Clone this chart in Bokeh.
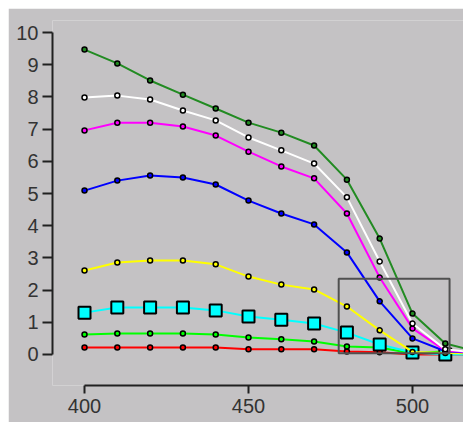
from bokeh.plotting import figure
from bokeh.models import Range1d, FixedTicker, ColumnDataSource
from bokeh.embed import file_html
from bokeh.resources import INLINE

wavelength = [400, 410, 420, 430, 440, 450, 460, 470, 480, 490, 500, 510, 520]

dark_green = [9.47, 9.04, 8.51, 8.07, 7.64, 7.20, 6.89, 6.49, 5.43, 3.60, 1.27, 0.34, 0.08]
white = [7.98, 8.04, 7.92, 7.58, 7.27, 6.74, 6.34, 5.93, 4.88, 2.89, 0.96, 0.16, 0.05]
magenta = [6.96, 7.20, 7.20, 7.08, 6.80, 6.30, 5.84, 5.47, 4.38, 2.39, 0.81, 0.12, 0.05]
blue = [5.09, 5.40, 5.56, 5.50, 5.28, 4.78, 4.38, 4.04, 3.17, 1.65, 0.50, 0.10, 0.05]
yellow = [2.61, 2.86, 2.92, 2.92, 2.80, 2.42, 2.17, 2.02, 1.49, 0.75, 0.08, 0.05, 0.03]
cyan = [1.30, 1.46, 1.46, 1.46, 1.37, 1.18, 1.08, 0.96, 0.68, 0.31, 0.06, 0.00, 0.00]
lime = [0.62, 0.65, 0.65, 0.65, 0.62, 0.53, 0.47, 0.40, 0.25, 0.22, 0.03, 0.10, 0.08]
red = [0.22, 0.22, 0.22, 0.22, 0.22, 0.16, 0.16, 0.16, 0.09, 0.07, 0.00, 0.00, 0.00]

series = [
    ("#228b22", dark_green),
    ("#ffffff", white),
    ("#ff00ff", magenta),
    ("#0000ff", blue),
    ("#ffff00", yellow),
    ("#00ffff", cyan),
    ("#00ff00", lime),
    ("#ff0000", red),
]

x_ticks = [400, 450, 500]
y_ticks = [0, 1, 2, 3, 4, 5, 6, 7, 8, 9, 10]

# zoom box (data coordinates)
box_left, box_right, box_bottom, box_top = 477.5, 511.3, 0.04, 2.35

BG = "#c4c2c4"

p = figure(
    width=455, height=414,
    x_range=Range1d(390.24, 515.55),
    y_range=Range1d(-0.963, 10.373),
    output_backend="svg", toolbar_location=None,
    min_border_left=44, min_border_right=0, min_border_top=12, min_border_bottom=37,
    background_fill_color=BG, border_fill_color=BG,
)
p.margin = (8, 0, 0, 8)
p.outline_line_color = None
p.grid.visible = False

for color, vals in reversed(series):
    src = ColumnDataSource(dict(x=wavelength, y=vals))
    p.line("x", "y", source=src, line_color=color, line_width=2)
    if vals is cyan:
        p.scatter("x", "y", source=src, marker="square", size=12,
                  fill_color=color, line_color="black", line_width=2)
    else:
        p.scatter("x", "y", source=src, marker="circle", size=5,
                  fill_color=color, line_color="black", line_width=1.5)

p.quad(left=[box_left], right=[box_right], bottom=[box_bottom], top=[box_top],
       fill_color=None, line_color="#505050", line_width=2)

for ax in (p.xaxis[0], p.yaxis[0]):
    ax.axis_line_color = "#202020"
    ax.axis_line_width = 2
    ax.major_tick_line_color = "#202020"
    ax.major_tick_line_width = 2
    ax.major_tick_in = 0
    ax.minor_tick_out = 0
    ax.minor_tick_in = 0
    ax.major_label_text_font = "Liberation Sans"
    ax.major_label_text_font_size = "20px"
    ax.major_label_text_color = "#333333"

p.xaxis.ticker = FixedTicker(ticks=x_ticks)
p.xaxis.bounds = (400, 520)
p.xaxis.major_tick_out = 8
p.xaxis.major_label_standoff = 5

p.yaxis.ticker = FixedTicker(ticks=y_ticks)
p.yaxis.bounds = (0, 10)
p.yaxis.major_tick_out = 10
p.yaxis.major_label_standoff = 4

open("out.html", "w").write(file_html(p, INLINE))
